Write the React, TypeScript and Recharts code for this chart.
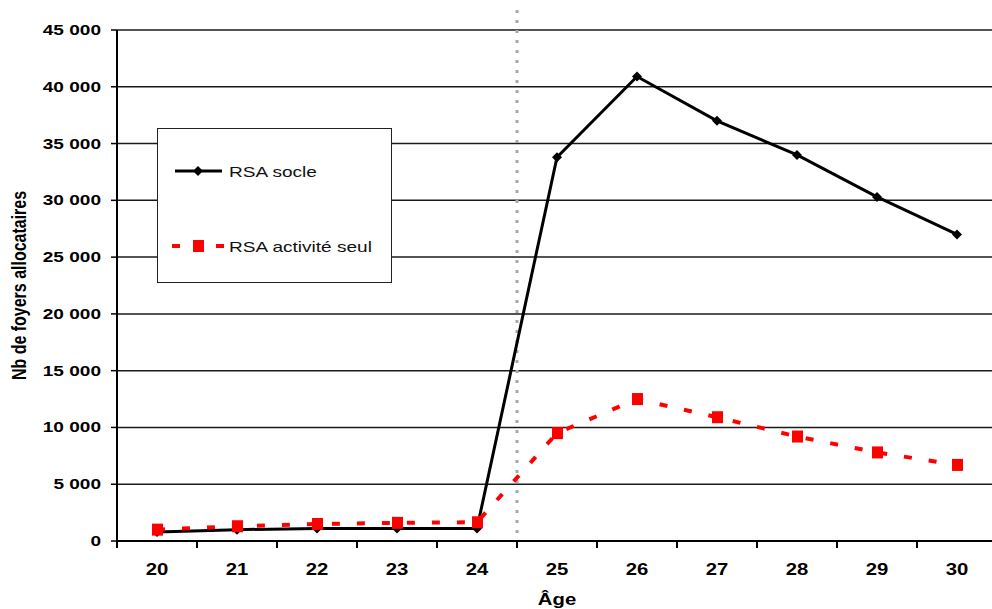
import React from "react";
import {
  CartesianGrid,
  Legend,
  Line,
  LineChart,
  ReferenceLine,
  XAxis,
  YAxis,
} from "recharts";

// Age of the allocataire (x axis)
const ages = [20, 21, 22, 23, 24, 25, 26, 27, 28, 29, 30];
// Nb de foyers allocataires
const rsaSocle = [800, 1000, 1100, 1100, 1100, 33800, 40900, 37000, 34000, 30300, 27000];
const rsaActivite = [1000, 1300, 1500, 1600, 1650, 9500, 12500, 10900, 9200, 7800, 6700];
const yTicks = [0, 5000, 10000, 15000, 20000, 25000, 30000, 35000, 40000, 45000];
const seriesNames = { socle: "RSA socle", activite: "RSA activité seul" };
const legendOrder = ["socle", "activite"];
// the dotted line sits between 24 and 25
const thresholdAge = 24.5;

const FONT = '"Liberation Sans", Arial, sans-serif';
const STRETCH = 1.27; // the original picture is stretched horizontally

const data = ages.map((age, i) => ({
  age,
  socle: rsaSocle[i],
  activite: rsaActivite[i],
}));

// labels at every age, tick marks half-way between ages
const xTicks = [...ages.flatMap((a) => [a - 0.5, a]), ages[ages.length - 1] + 0.5];

const fmt = (v: number) => String(v).replace(/\B(?=(\d{3})+(?!\d))/g, " ");

function XTick({ x, y, payload }: any) {
  const v = payload.value as number;
  if (v % 1 !== 0) {
    return <line x1={x} y1={y} x2={x} y2={y + 7} stroke="#000" strokeWidth={2} />;
  }
  return (
    <text
      transform={`translate(${x},${y + 34}) scale(${STRETCH},1)`}
      textAnchor="middle"
      fontFamily={FONT}
      fontWeight="bold"
      fontSize={16}
      fill="#000"
    >
      {v}
    </text>
  );
}

function YTick({ x, y, payload }: any) {
  return (
    <text
      transform={`translate(${x},${y + 5}) scale(${STRETCH},1)`}
      textAnchor="end"
      fontFamily={FONT}
      fontWeight="bold"
      fontSize={15}
      fill="#000"
    >
      {fmt(payload.value)}
    </text>
  );
}

function Diamond({ cx, cy }: any) {
  if (cx == null || cy == null) return null;
  return <path d={`M${cx},${cy - 5} L${cx + 5},${cy} L${cx},${cy + 5} L${cx - 5},${cy} Z`} fill="#000" />;
}

function Square({ cx, cy }: any) {
  if (cx == null || cy == null) return null;
  return <rect x={cx - 5} y={cy - 6} width={11} height={12} fill="#ff0000" />;
}

function LegendBox({ payload }: any) {
  const items = [...(payload || [])].sort(
    (a: any, b: any) => legendOrder.indexOf(a.dataKey) - legendOrder.indexOf(b.dataKey)
  );
  return (
    <div
      style={{
        boxSizing: "border-box",
        width: 235,
        height: 155,
        border: "1.5px solid #222",
        background: "#fff",
        position: "relative",
        fontFamily: FONT,
      }}
    >
      {items.map((entry: any, i: number) => {
        const isSocle = entry.dataKey === "socle";
        return (
          <div
            key={entry.dataKey}
            style={{
              position: "absolute",
              left: 14,
              top: i === 0 ? 30 : 105,
              height: 24,
              display: "flex",
              alignItems: "center",
            }}
          >
            <svg width={57} height={24} style={{ display: "block" }}>
              {isSocle ? (
                <>
                  <line x1={3} y1={12} x2={50} y2={12} stroke="#000" strokeWidth={3} />
                  <path d="M26,7 L31,12 L26,17 L21,12 Z" fill="#000" />
                </>
              ) : (
                <>
                  <line x1={0} y1={12} x2={52} y2={12} stroke="#ff0000" strokeWidth={4} strokeDasharray="8 14" />
                  <rect x={21} y={6} width={11} height={12} fill="#ff0000" />
                </>
              )}
            </svg>
            <span
              style={{
                fontSize: 15,
                color: "#111",
                whiteSpace: "nowrap",
                display: "inline-block",
                transform: `scaleX(${STRETCH})`,
                transformOrigin: "left center",
              }}
            >
              {entry.value}
            </span>
          </div>
        );
      })}
    </div>
  );
}

export default function App() {
  return (
    <div
      style={{
        position: "absolute",
        left: 0,
        top: 0,
        width: 992,
        height: 609,
        overflow: "hidden",
        background: "#fff",
      }}
    >
      <LineChart width={1000} height={609} data={data} margin={{ top: 30, right: 3, bottom: 0, left: 0 }}>
        <CartesianGrid vertical={false} stroke="#1a1a1a" strokeWidth={1.5} />
        <XAxis
          dataKey="age"
          type="number"
          domain={[19.5, 30.5]}
          ticks={xTicks}
          interval={0}
          height={68}
          tickSize={0}
          tickMargin={0}
          tickLine={false}
          axisLine={{ stroke: "#000", strokeWidth: 2 }}
          tick={<XTick />}
          label={{
            content: ({ viewBox }: any) => (
              <text
                transform={`translate(${viewBox.x + viewBox.width / 2},${viewBox.y + 64}) scale(${STRETCH},1)`}
                textAnchor="middle"
                fontFamily={FONT}
                fontWeight="bold"
                fontSize={16}
                fill="#000"
              >
                Âge
              </text>
            ),
          }}
        />
        <YAxis
          domain={[0, 45000]}
          ticks={yTicks}
          interval={0}
          width={117}
          tickSize={6}
          tickMargin={10}
          axisLine={{ stroke: "#000", strokeWidth: 2 }}
          tickLine={{ stroke: "#000", strokeWidth: 1.5 }}
          tick={<YTick />}
          label={{
            content: ({ viewBox }: any) => (
              <text
                transform={`translate(26,${viewBox.y + viewBox.height / 2}) scale(${STRETCH},1) rotate(-90)`}
                textAnchor="middle"
                fontFamily={FONT}
                fontWeight="bold"
                fontSize={16}
                fill="#000"
              >
                Nb de foyers allocataires
              </text>
            ),
          }}
        />
        <ReferenceLine
          x={thresholdAge}
          stroke="#aaa"
          shape={(p: any) => (
            <line
              x1={p.x1}
              x2={p.x2}
              y1={Math.min(p.y1, p.y2) - 20}
              y2={Math.max(p.y1, p.y2)}
              stroke="#a8a8a8"
              strokeWidth={3}
              strokeDasharray="3 7"
            />
          )}
        />
        <Legend
          layout="horizontal"
          verticalAlign="middle"
          align="center"
          wrapperStyle={{ left: 157, top: 128, width: 235, height: 155 }}
          content={<LegendBox />}
        />
        <Line
          type="linear"
          dataKey="socle"
          name={seriesNames.socle}
          stroke="#000"
          strokeWidth={3}
          dot={<Diamond />}
          activeDot={false}
          isAnimationActive={false}
        />
        <Line
          type="linear"
          dataKey="activite"
          name={seriesNames.activite}
          stroke="#ff0000"
          strokeWidth={4}
          strokeDasharray="8 17"
          dot={<Square />}
          activeDot={false}
          isAnimationActive={false}
        />
      </LineChart>
    </div>
  );
}
